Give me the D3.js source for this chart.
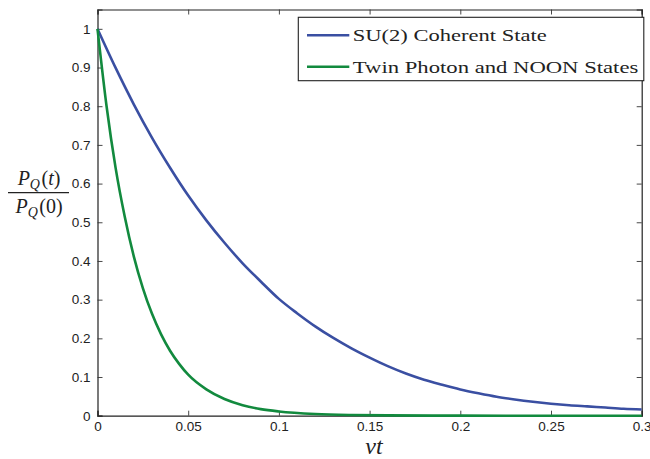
<!DOCTYPE html>
<html>
<head>
<meta charset="utf-8">
<script src="https://cdn.jsdelivr.net/npm/d3@7"></script>
<style>
  body { margin: 0; background: #fff; }
  svg { display: block; }
  .tick text { font-family: "Liberation Sans", Arial, sans-serif; font-size: 13.5px; fill: #222; }
</style>
</head>
<body>
<div id="vis"><svg></svg></div>
<script>
// values
var tBlue = [0, 0.01, 0.02, 0.03, 0.04, 0.05, 0.06, 0.07, 0.08, 0.09, 0.1,
             0.11, 0.12, 0.13, 0.14, 0.15, 0.16, 0.17, 0.18, 0.19, 0.2,
             0.21, 0.22, 0.23, 0.24, 0.25, 0.26, 0.27, 0.28, 0.29, 0.3];
var suCoherent = [1, 0.899, 0.805, 0.719, 0.641, 0.569, 0.505, 0.447, 0.394, 0.347, 0.302,
                  0.265, 0.231, 0.201, 0.174, 0.150, 0.128, 0.109, 0.093, 0.080, 0.068,
                  0.058, 0.049, 0.042, 0.036, 0.031, 0.027, 0.024, 0.021, 0.018, 0.016];
var tGreen = [0, 0.005, 0.01, 0.015, 0.02, 0.025, 0.03, 0.035, 0.04, 0.045, 0.05,
              0.06, 0.07, 0.08, 0.09, 0.1, 0.12, 0.14, 0.16, 0.2, 0.25, 0.3];
var twinNoon = [1, 0.80, 0.64, 0.515, 0.412, 0.330, 0.264, 0.211, 0.168, 0.134, 0.106,
                0.068, 0.043, 0.027, 0.017, 0.011, 0.0045, 0.0018, 0.0008, 0.0001, 0, 0];
var xTicks = [0, 0.05, 0.1, 0.15, 0.2, 0.25, 0.3];
var yTicks = [0, 0.1, 0.2, 0.3, 0.4, 0.5, 0.6, 0.7, 0.8, 0.9, 1];
var seriesNames = ["SU(2) Coherent State", "Twin Photon and NOON States"];
var seriesColors = ["#3a4fa2", "#128a3e"];

var margin = {top: 9.5, right: 8.3, bottom: 43.3, left: 97.5},
    width = 650 - margin.left - margin.right,
    height = 459 - margin.top - margin.bottom;

var svg = d3.select("#vis").select("svg")
    .attr("width", 650)
    .attr("height", 459);

var g = svg.append("g")
    .attr("transform", "translate(" + margin.left + "," + margin.top + ")");

var x = d3.scaleLinear().domain([0, 0.3]).range([0, width]);
var y = d3.scaleLinear().domain([0, 1.05]).range([height, 0]);

var dataReady = [
  {name: seriesNames[0], values: tBlue.map(function(t, i) { return {time: t, value: suCoherent[i]}; })},
  {name: seriesNames[1], values: tGreen.map(function(t, i) { return {time: t, value: twinNoon[i]}; })}
];

// axes with inward ticks on all four sides
var xAxis = g.append("g")
    .attr("transform", "translate(0," + height + ")")
    .call(d3.axisBottom(x).tickValues(xTicks).tickSize(-5).tickPadding(9)
      .tickFormat(function(d) { return d3.format("")(+d.toFixed(2)); }));
var yAxis = g.append("g")
    .call(d3.axisLeft(y).tickValues(yTicks).tickSize(-5).tickPadding(7)
      .tickFormat(function(d) { return d3.format("")(+d.toFixed(1)); }));
g.append("g")
    .call(d3.axisTop(x).tickValues(xTicks).tickSize(-5).tickFormat(""));
g.append("g")
    .attr("transform", "translate(" + width + ",0)")
    .call(d3.axisRight(y).tickValues(yTicks).tickSize(-5).tickFormat(""));
g.selectAll(".domain").attr("stroke", "#222").attr("stroke-width", 1.2);
g.selectAll(".tick line").attr("stroke", "#333").attr("stroke-width", 0.9);
xAxis.selectAll(".tick text").attr("dy", "0.5em");

// lines
var line = d3.line()
  .curve(d3.curveMonotoneX)
  .x(function(d) { return x(d.time); })
  .y(function(d) { return y(d.value); });

g.selectAll("myLines")
  .data(dataReady)
  .enter()
  .append("path")
    .attr("d", function(d) { return line(d.values); })
    .attr("stroke", function(d, i) { return seriesColors[i]; })
    .style("stroke-width", 2.6)
    .style("fill", "none");

// legend
var serif = "'Liberation Serif', 'Times New Roman', serif";
var legend = svg.append("g").attr("transform", "translate(298.3,17.3)");
legend.append("rect")
    .attr("width", 345.5).attr("height", 63.4)
    .attr("fill", "#fff").attr("stroke", "#222").attr("stroke-width", 1.1);
var rows = legend.selectAll("myLegend")
  .data(dataReady)
  .enter()
  .append("g")
    .attr("transform", function(d, i) { return "translate(0," + (18 + i * 31.5) + ")"; });
rows.append("line")
    .attr("x1", 8.7).attr("x2", 51)
    .attr("stroke", function(d, i) { return seriesColors[i]; })
    .attr("stroke-width", 2.6);
rows.append("text")
    .attr("x", 54.5).attr("dy", "0.33em")
    .attr("textLength", function(d, i) { return i === 0 ? 194 : 285.5; })
    .attr("lengthAdjust", "spacingAndGlyphs")
    .style("font-family", serif)
    .style("font-size", "17.5px")
    .style("fill", "#222")
    .text(function(d) { return d.name; });

// axis labels
svg.append("text")
    .attr("x", 374).attr("y", 454)
    .attr("text-anchor", "middle")
    .style("font-family", serif).style("font-style", "italic")
    .style("font-size", "24px").style("fill", "#222")
    .text("\u03bdt");

function frac(yBase, arg) {
  var t = svg.append("text")
      .attr("x", 39).attr("y", yBase)
      .attr("text-anchor", "middle")
      .style("font-family", serif).style("font-size", "20px").style("fill", "#222");
  t.append("tspan").style("font-style", "italic").text("P");
  t.append("tspan").style("font-style", "italic").style("font-size", "14px").attr("dy", 4).text("Q");
  t.append("tspan").attr("dy", -4).attr("dx", 1.5).text("(");
  t.append("tspan").style("font-style", arg === "t" ? "italic" : "normal").text(arg);
  t.append("tspan").text(")");
}
frac(185, "t");
svg.append("line")
    .attr("x1", 8).attr("x2", 69).attr("y1", 192.7).attr("y2", 192.7)
    .attr("stroke", "#222").attr("stroke-width", 1.3);
frac(213, "0");
</script>
</body>
</html>
